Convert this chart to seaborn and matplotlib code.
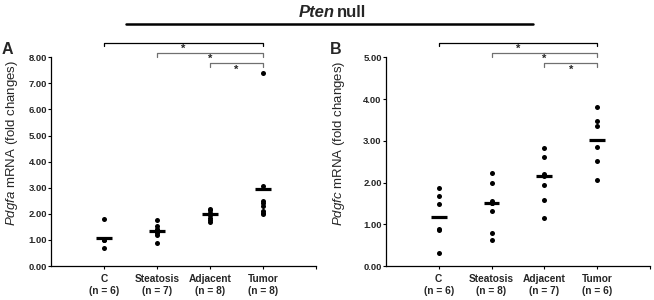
import numpy as np
import pandas as pd
import matplotlib
matplotlib.use("Agg")
import matplotlib.pyplot as plt
import matplotlib.transforms as mtransforms
import seaborn as sns

# data
groups = ["C", "Steatosis", "Adjacent", "Tumor"]
n_a = [6, 7, 8, 8]
n_b = [6, 8, 7, 6]

pdgfa_c = [1.79, 1.05, 1.02, 1.00, 0.98, 0.70]
pdgfa_steatosis = [1.77, 1.55, 1.40, 1.35, 1.25, 1.20, 0.90]
pdgfa_adjacent = [2.20, 2.15, 2.05, 2.00, 1.95, 1.85, 1.75, 1.68]
pdgfa_tumor = [7.40, 3.05, 2.50, 2.40, 2.30, 2.10, 2.05, 2.00]
pdgfa_means = [1.06, 1.35, 1.98, 2.96]

pdgfc_c = [1.88, 1.67, 1.48, 0.89, 0.87, 0.32]
pdgfc_steatosis = [2.24, 1.99, 1.55, 1.50, 1.31, 0.80, 0.62, 1.52]
pdgfc_adjacent = [2.82, 2.62, 2.20, 2.16, 1.94, 1.58, 1.14]
pdgfc_tumor = [3.82, 3.47, 3.35, 2.84, 2.52, 2.06]
pdgfc_means = [1.18, 1.52, 2.15, 3.02]

# significance brackets: (from group, to group, height in axes fraction)
brackets = [(0, 3, 1.07), (1, 3, 1.02), (2, 3, 0.971)]
bracket_colors = ["black", "#707070", "#707070"]

sns.set_theme(style="white")
plt.rcParams["font.family"] = ["Liberation Sans", "DejaVu Sans"]
plt.rcParams["mathtext.fontset"] = "custom"
plt.rcParams["mathtext.it"] = "Liberation Sans:italic"
plt.rcParams["mathtext.rm"] = "Liberation Sans"


def long_df(values):
    rows = []
    for g, vals in zip(groups, values):
        for v in vals:
            rows.append((g, v))
    return pd.DataFrame(rows, columns=["group", "value"])


df_a = long_df([pdgfa_c, pdgfa_steatosis, pdgfa_adjacent, pdgfa_tumor])
df_b = long_df([pdgfc_c, pdgfc_steatosis, pdgfc_adjacent, pdgfc_tumor])

fig = plt.figure(figsize=(6.54, 3.0), dpi=100)
ax_a = fig.add_axes([0.078, 0.1133, 0.405, 0.6957])
ax_b = fig.add_axes([0.590, 0.1133, 0.404, 0.6957])

panels = [
    (ax_a, df_a, pdgfa_means, n_a, 8, r"$\mathit{Pdgfa}$ mRNA (fold changes)", "A", 2, -0.117),
    (ax_b, df_b, pdgfc_means, n_b, 5, r"$\mathit{Pdgfc}$ mRNA (fold changes)", "B", 330, -0.148),
]

for ax, df, means, ns, ymax, ylab, letter, lx, labx in panels:
    sns.stripplot(data=df, x="group", y="value", order=groups, jitter=False,
                  color="black", size=3.6, linewidth=0, ax=ax)
    ax.hlines(means, np.arange(4) - 0.15, np.arange(4) + 0.15, color="black", lw=2.3, zorder=3)
    ax.set_xlim(-1, 4)
    ax.set_ylim(0, ymax)
    ax.set_yticks(np.arange(0, ymax + 0.5, 1))
    ax.set_yticklabels(["%.2f" % v for v in np.arange(0, ymax + 0.5, 1)],
                       fontsize=6.8, fontweight="bold")
    ax.set_xticks(range(5))
    ax.set_xticklabels(["%s\n(n = %d)" % (g, n) for g, n in zip(groups, ns)] + [""],
                       fontsize=7.3, fontweight="bold", linespacing=1.25)
    ax.tick_params(axis="both", length=2, width=0.8, color="black", pad=1,
                   bottom=True, left=True)
    ax.tick_params(axis="x", pad=4)
    for side in ["top", "right"]:
        ax.spines[side].set_visible(False)
    for side in ["left", "bottom"]:
        ax.spines[side].set_color("black")
        ax.spines[side].set_linewidth(0.9)
    ax.set_xlabel("")
    ax.set_ylabel(ylab, fontsize=9.5)
    ax.yaxis.set_label_coords(labx, 0.59)

    trans = mtransforms.blended_transform_factory(ax.transData, ax.transAxes)
    for (i, j, h), c in zip(brackets, bracket_colors):
        ax.plot([i, i, j, j], [h - 0.017, h, h, h - 0.017], color=c, lw=0.9,
                transform=trans, clip_on=False)
        ax.text((i + j) / 2, h - 0.005, "*", ha="center", va="top", fontsize=8,
                fontweight="bold", transform=trans)

    fig.text(lx / 654, 0.82, letter, fontsize=11.5, fontweight="bold", va="baseline")

# overall title with rule
fig.text(335 / 654, 0.944, "Pten", fontsize=12, fontweight="bold", style="italic",
         ha="right", va="baseline")
fig.text(337 / 654, 0.944, "null", fontsize=12, fontweight="bold", ha="left", va="baseline")
fig.add_artist(plt.Line2D([126 / 654, 533 / 654], [1 - 24 / 300, 1 - 24 / 300],
                          color="black", lw=1.8, transform=fig.transFigure))

fig.savefig("out.png", dpi=100)
